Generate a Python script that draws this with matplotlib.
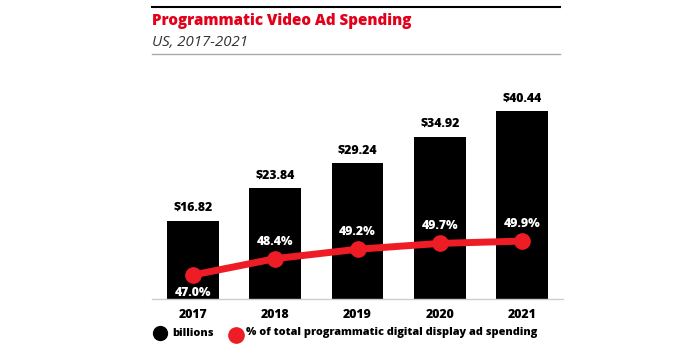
import matplotlib
matplotlib.use("Agg")
import matplotlib.pyplot as plt
from matplotlib.lines import Line2D

years = ["2017", "2018", "2019", "2020", "2021"]
spending = [16.82, 23.84, 29.24, 34.92, 40.44]
share = [47.0, 48.4, 49.2, 49.7, 49.9]

plt.rcParams['font.family'] = ['Open Sans', 'DejaVu Sans']

W, H = 700, 350
fig = plt.figure(figsize=(7, 3.5), dpi=100)

def fx(px): return px / W
def fy(py): return 1 - py / H

left, right, top, bottom = 152, 563, 90, 299
ax = fig.add_axes([fx(left), fy(bottom), fx(right) - fx(left), fy(top) - fy(bottom)])
x = list(range(len(years)))
ax.bar(x, spending, width=0.63, color="black", zorder=2)
ax.set_xlim(-0.5, 4.5)
ax.set_ylim(0, (bottom - top) / 4.64)
for xi, v in zip(x, spending):
    ax.annotate(f"\\${v:.2f}", (xi, v), xytext=(0, 5), textcoords="offset points",
                ha="center", va="bottom", fontsize=8.8, fontweight="heavy", color="black")
ax.set_xticks(x)
ax.set_xticklabels(years, fontsize=8.8, fontweight="heavy")
ax.tick_params(axis="x", length=0, pad=7)
ax.set_yticks([])
for s in ["top", "right", "left"]:
    ax.spines[s].set_visible(False)
ax.spines["bottom"].set_color("#cccccc")
ax.spines["bottom"].set_linewidth(1)

ax2 = ax.twinx()
lo = 47 - (bottom - 275) / 11.7
hi = 47 + (275 - top) / 11.7
ax2.set_ylim(lo, hi)
ax2.plot(x, share, color="#ee1c25", lw=5, marker="o", markersize=11, zorder=3,
         solid_capstyle="round")
for i, (xi, v) in enumerate(zip(x, share)):
    if i == 0:
        ax2.annotate(f"{v:.1f}%", (xi, v), xytext=(0, -9), textcoords="offset points",
                     ha="center", va="top", fontsize=8.8, fontweight="heavy", color="white")
    else:
        ax2.annotate(f"{v:.1f}%", (xi, v), xytext=(0, 8), textcoords="offset points",
                     ha="center", va="bottom", fontsize=8.8, fontweight="heavy", color="white")
ax2.axis("off")

# header lines and titles
fig.add_artist(Line2D([fx(152), fx(560)], [fy(7), fy(7)], color="black", lw=1.5))
fig.add_artist(Line2D([fx(152), fx(560)], [fy(54), fy(54)], color="#aaaaaa", lw=1))
fig.text(fx(152), fy(21), "Programmatic Video Ad Spending", color="#e2001a",
         fontsize=10.9, fontweight="heavy", ha="left", va="center")
fig.text(fx(152), fy(43), "US, 2017-2021", color="#333333", fontsize=10.8,
         style="italic", ha="left", va="center")

# legend
fig.add_artist(Line2D([fx(160)], [fy(333)], marker="o", color="black", markersize=10, lw=0))
fig.text(fx(172), fy(333), "billions", fontsize=7.8, fontweight="heavy", ha="left", va="center")
fig.add_artist(Line2D([fx(236)], [fy(335)], marker="o", color="#ee1c25", markersize=11, lw=0))
fig.text(fx(246), fy(333), "% of total programmatic digital display ad spending",
         fontsize=7.8, fontweight="heavy", ha="left", va="center")

fig.savefig("out.png", dpi=100)
